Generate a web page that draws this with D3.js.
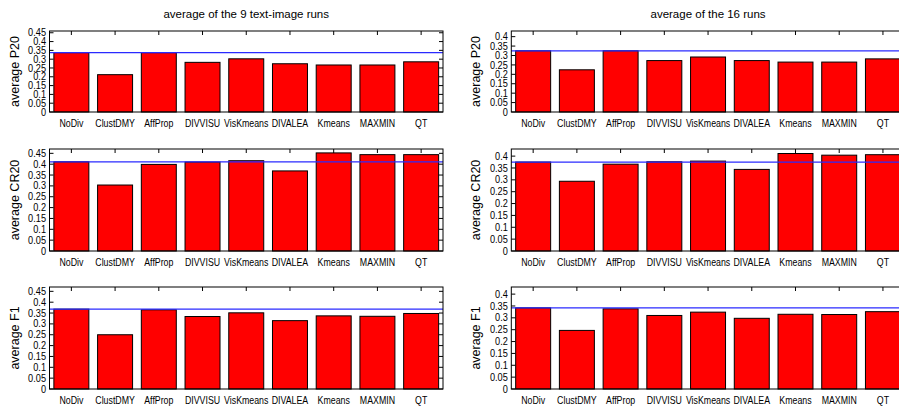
<!DOCTYPE html>
<html>
<head>
<meta charset="utf-8">
<script src="https://cdn.jsdelivr.net/npm/d3@7"></script>
<style>
  body { margin: 0; background: #fff; }
  text { font-family: "Liberation Sans", Arial, Helvetica, sans-serif; fill: #000; }
</style>
</head>
<body>
<svg id="chart" width="899" height="412"></svg>
<script>
// categories shared by every panel
const methods = ["NoDiv", "ClustDMY", "AffProp", "DIVVISU", "VisKmeans", "DIVALEA", "Kmeans", "MAXMIN", "QT"];

// left column: average of the 9 text-image runs
const p20Runs9  = [0.337, 0.212, 0.337, 0.282, 0.302, 0.274, 0.267, 0.267, 0.285];
const cr20Runs9 = [0.411, 0.304, 0.399, 0.410, 0.416, 0.369, 0.452, 0.444, 0.444];
const f1Runs9   = [0.368, 0.250, 0.365, 0.334, 0.351, 0.315, 0.337, 0.335, 0.348];

// right column: average of the 16 runs
const p20Runs16  = [0.325, 0.224, 0.325, 0.273, 0.292, 0.273, 0.265, 0.265, 0.282];
const cr20Runs16 = [0.375, 0.294, 0.366, 0.376, 0.379, 0.344, 0.411, 0.404, 0.406];
const f1Runs16   = [0.342, 0.247, 0.338, 0.310, 0.324, 0.298, 0.315, 0.314, 0.326];

const columnTitles = ["average of the 9 text-image runs", "average of the 16 runs"];
const rowLabels = ["average P20", "average CR20", "average F1"];
const leftTicks  = [0, 0.05, 0.1, 0.15, 0.2, 0.25, 0.3, 0.35, 0.4, 0.45];
const rightTicks = [0, 0.05, 0.1, 0.15, 0.2, 0.25, 0.3, 0.35, 0.4];

// layout (pixels)
const cols = [{ x0: 49.5, x1: 443 }, { x0: 511.3, x1: 904.8 }];
const rows = [{ y0: 31, y1: 112 }, { y0: 149, y1: 251 }, { y0: 287, y1: 389 }];

const panels = [
  { col: 0, row: 0, values: p20Runs9,   ymax: 0.46, ticks: leftTicks },
  { col: 1, row: 0, values: p20Runs16,  ymax: 0.43, ticks: rightTicks },
  { col: 0, row: 1, values: cr20Runs9,  ymax: 0.47, ticks: leftTicks },
  { col: 1, row: 1, values: cr20Runs16, ymax: 0.43, ticks: rightTicks },
  { col: 0, row: 2, values: f1Runs9,    ymax: 0.47, ticks: leftTicks },
  { col: 1, row: 2, values: f1Runs16,   ymax: 0.43, ticks: rightTicks }
];

const svg = d3.select("#chart");
const tickLen = 4;

panels.forEach(p => {
  const c = cols[p.col], r = rows[p.row];
  const g = svg.append("g");

  const x = d3.scaleBand().domain(methods).range([c.x0, c.x1]).paddingInner(0.2).paddingOuter(0.1);
  const xc = d => x(d) + x.bandwidth() / 2;
  const y = d3.scaleLinear().domain([0, p.ymax]).range([r.y1, r.y0]);

  // bottom x ticks (mostly hidden by the boxes, as in gnuplot)
  g.selectAll(".bt").data(methods).join("line")
    .attr("x1", xc).attr("x2", xc)
    .attr("y1", r.y1).attr("y2", r.y1 - tickLen)
    .attr("stroke", "#000").attr("stroke-width", 1);

  // boxes
  g.selectAll("rect.bar").data(p.values).join("rect")
    .attr("class", "bar")
    .attr("x", (d, i) => x(methods[i]))
    .attr("width", x.bandwidth())
    .attr("y", d => y(d))
    .attr("height", d => y(0) - y(d))
    .attr("fill", "#ff0000")
    .attr("stroke", "#000")
    .attr("stroke-width", 1);

  // reference line at the NoDiv value
  g.append("line")
    .attr("x1", c.x0).attr("x2", c.x1)
    .attr("y1", y(p.values[0])).attr("y2", y(p.values[0]))
    .attr("stroke", "#2a2aff").attr("stroke-width", 1.3);

  // border
  g.append("rect")
    .attr("x", c.x0).attr("y", r.y0)
    .attr("width", c.x1 - c.x0).attr("height", r.y1 - r.y0)
    .attr("fill", "none").attr("stroke", "#000").attr("stroke-width", 1);

  // top mirrored x ticks
  g.selectAll(".tt").data(methods).join("line")
    .attr("x1", xc).attr("x2", xc)
    .attr("y1", r.y0).attr("y2", r.y0 + tickLen)
    .attr("stroke", "#000").attr("stroke-width", 1);

  // y ticks, left and mirrored right
  g.selectAll(".yl").data(p.ticks).join("line")
    .attr("x1", c.x0).attr("x2", c.x0 + tickLen)
    .attr("y1", d => y(d)).attr("y2", d => y(d))
    .attr("stroke", "#000").attr("stroke-width", 1);
  g.selectAll(".yr").data(p.ticks).join("line")
    .attr("x1", c.x1).attr("x2", c.x1 - tickLen)
    .attr("y1", d => y(d)).attr("y2", d => y(d))
    .attr("stroke", "#000").attr("stroke-width", 1);

  // y tick labels
  g.selectAll(".ylab").data(p.ticks).join("text")
    .attr("transform", d => `translate(${c.x0 - 3.5},${y(d) + 3.6}) scale(0.92,1)`)
    .attr("text-anchor", "end")
    .style("font-size", "10px")
    .text(d => String(+d.toFixed(2)));

  // x tick labels
  g.selectAll(".xlab").data(methods).join("text")
    .attr("transform", d => `translate(${xc(d)},${r.y1 + 15}) scale(0.8,1)`)
    .attr("text-anchor", "middle")
    .style("font-size", "11px")
    .text(d => d);

  // y axis label
  g.append("text")
    .attr("transform", `translate(${c.x0 - 31},${(r.y0 + r.y1) / 2}) rotate(-90)`)
    .attr("text-anchor", "middle")
    .style("font-size", "12.5px")
    .text(rowLabels[p.row]);

  // column title above the first row
  if (p.row === 0) {
    g.append("text")
      .attr("x", (c.x0 + c.x1) / 2).attr("y", 17.5)
      .attr("text-anchor", "middle")
      .style("font-size", "11.5px")
      .text(columnTitles[p.col]);
  }
});
</script>
</body>
</html>
